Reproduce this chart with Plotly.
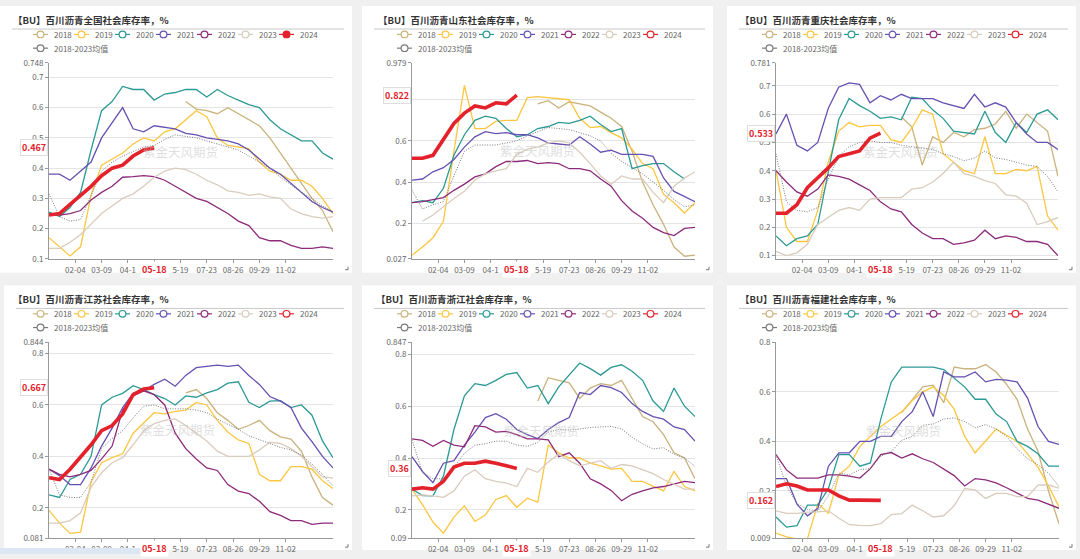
import plotly.graph_objects as go

W, H = 1080, 559
_ = None

# ---------------- data ----------------
WEEKS = list(range(0, 55, 2))          # week index of each reading (28 points)
WEEKS_2024 = list(range(0, 21, 2))     # 2024 readings up to latest week
TICK_POS = [5, 10, 15, 20, 25, 30, 35, 40, 45]
# labels as visible in the reference (the 04-1x / x5-19 labels are partly hidden by the latest-date tag)
TICK_LABELS = ["02-04", "03-09", "04-1", "", "5-19", "07-23", "08-26", "09-29", "11-02"]
LATEST_POS = 20
LATEST_LABEL = "05-18"

YEARS = ["2018", "2019", "2020", "2021", "2022", "2023"]
AVG_NAME = "2018-2023均值"
CUR_NAME = "2024"

TITLES = [
    "【BU】百川沥青全国社会库存率，%",
    "【BU】百川沥青山东社会库存率，%",
    "【BU】百川沥青重庆社会库存率，%",
    "【BU】百川沥青江苏社会库存率，%",
    "【BU】百川沥青浙江社会库存率，%",
    "【BU】百川沥青福建社会库存率，%",
]

NATIONAL = {
    "2018": [_] * 13 + [0.62, 0.595, 0.59, 0.58, 0.60, 0.58, 0.56, 0.54, 0.50, 0.45, 0.40, 0.35, 0.30, 0.26, 0.19],
    "2019": [0.17, 0.14, 0.11, 0.14, 0.31, 0.41, 0.43, 0.45, 0.48, 0.50, 0.49, 0.52, 0.53, 0.56, 0.59, 0.57, 0.50, 0.475, 0.47, 0.465, 0.42, 0.39, 0.38, 0.36, 0.36, 0.34, 0.30, 0.25],
    "2020": [0.255, 0.24, 0.27, 0.32, 0.46, 0.59, 0.62, 0.67, 0.66, 0.66, 0.625, 0.645, 0.65, 0.66, 0.66, 0.635, 0.66, 0.64, 0.625, 0.61, 0.60, 0.56, 0.53, 0.51, 0.49, 0.49, 0.45, 0.43],
    "2021": [0.38, 0.38, 0.36, 0.39, 0.42, 0.50, 0.55, 0.60, 0.53, 0.52, 0.54, 0.535, 0.53, 0.515, 0.51, 0.50, 0.495, 0.49, 0.48, 0.46, 0.43, 0.40, 0.38, 0.35, 0.32, 0.29, 0.27, 0.255],
    "2022": [0.25, 0.245, 0.25, 0.26, 0.295, 0.32, 0.34, 0.37, 0.372, 0.375, 0.372, 0.36, 0.34, 0.32, 0.30, 0.29, 0.27, 0.25, 0.225, 0.21, 0.17, 0.16, 0.16, 0.145, 0.135, 0.135, 0.14, 0.135],
    "2023": [0.135, 0.135, 0.155, 0.18, 0.215, 0.25, 0.275, 0.30, 0.315, 0.34, 0.37, 0.39, 0.40, 0.395, 0.38, 0.36, 0.345, 0.325, 0.32, 0.31, 0.315, 0.305, 0.30, 0.265, 0.25, 0.24, 0.235, 0.24],
    "avg":  [0.315, 0.24, 0.225, 0.23, 0.31, 0.39, 0.42, 0.44, 0.455, 0.47, 0.475, 0.495, 0.51, 0.505, 0.50, 0.49, 0.48, 0.47, 0.46, 0.44, 0.42, 0.40, 0.37, 0.345, 0.32, 0.30, 0.275, 0.255],
    "2024": [0.245, 0.25, 0.28, 0.31, 0.34, 0.375, 0.40, 0.41, 0.44, 0.46, 0.467],
}

SHANDONG = {
    "2018": [_] * 12 + [0.78, 0.795, 0.76, 0.79, 0.78, 0.77, 0.74, 0.71, 0.67, 0.55, 0.40, 0.29, 0.195, 0.085, 0.04, 0.045],
    "2019": [0.045, 0.085, 0.13, 0.21, 0.55, 0.87, 0.66, 0.66, 0.695, 0.70, 0.70, 0.81, 0.815, 0.81, 0.805, 0.80, 0.71, 0.665, 0.67, 0.64, 0.615, 0.56, 0.49, 0.465, 0.34, 0.30, 0.25, 0.30],
    "2020": [0.30, 0.31, 0.30, 0.37, 0.53, 0.63, 0.70, 0.72, 0.71, 0.66, 0.62, 0.63, 0.66, 0.67, 0.69, 0.685, 0.70, 0.72, 0.68, 0.645, 0.66, 0.465, 0.48, 0.49, 0.49, 0.45, 0.415, _],
    "2021": [0.41, 0.415, 0.45, 0.47, 0.51, 0.57, 0.62, 0.645, 0.635, 0.64, 0.63, 0.63, 0.615, 0.59, 0.585, 0.58, 0.62, 0.585, 0.545, 0.555, 0.535, 0.535, 0.535, 0.525, 0.42, 0.355, 0.33, 0.305],
    "2022": [0.30, 0.305, 0.315, 0.325, 0.36, 0.39, 0.425, 0.44, 0.475, 0.50, 0.50, 0.505, 0.49, 0.495, 0.49, 0.465, 0.465, 0.455, 0.415, 0.38, 0.31, 0.26, 0.225, 0.18, 0.155, 0.14, 0.175, 0.18],
    "2023": [_, 0.21, 0.24, 0.28, 0.32, 0.355, 0.41, 0.44, 0.455, 0.465, 0.535, 0.56, 0.57, 0.59, 0.60, 0.59, 0.545, 0.49, 0.43, 0.39, 0.43, 0.415, 0.415, 0.35, 0.30, 0.38, 0.42, 0.45],
    "avg":  [0.36, 0.27, 0.29, 0.305, 0.43, 0.55, 0.58, 0.58, 0.58, 0.59, 0.60, 0.625, 0.645, 0.665, 0.66, 0.655, 0.64, 0.625, 0.60, 0.54, 0.50, 0.47, 0.44, 0.40, 0.36, 0.315, 0.28, 0.29],
    "2024": [0.516, 0.516, 0.53, 0.61, 0.685, 0.735, 0.77, 0.76, 0.785, 0.78, 0.822],
}

CHONGQING = {
    "2018": [_] * 12 + [0.59, 0.555, 0.42, 0.52, 0.50, 0.535, 0.52, 0.545, 0.55, 0.565, 0.61, 0.55, 0.60, 0.57, 0.54, 0.38],
    "2019": [0.40, 0.20, 0.15, 0.15, 0.26, 0.43, 0.54, 0.57, 0.555, 0.56, 0.56, 0.51, 0.50, 0.55, 0.615, 0.60, 0.46, 0.43, 0.40, 0.39, 0.52, 0.39, 0.39, 0.405, 0.40, 0.415, 0.24, 0.19],
    "2020": [0.17, 0.135, 0.16, 0.17, 0.21, 0.40, 0.58, 0.655, 0.63, 0.61, 0.585, 0.59, 0.58, 0.66, 0.655, 0.615, 0.585, 0.54, 0.535, 0.53, 0.61, 0.535, 0.50, 0.57, 0.535, 0.60, 0.615, 0.58],
    "2021": [0.53, 0.60, 0.49, 0.47, 0.50, 0.62, 0.695, 0.71, 0.705, 0.64, 0.665, 0.65, 0.67, 0.655, 0.655, 0.655, 0.64, 0.63, 0.62, 0.67, 0.625, 0.64, 0.625, 0.57, 0.53, 0.50, 0.50, 0.475],
    "2022": [0.40, 0.36, 0.325, 0.31, 0.335, 0.385, 0.38, 0.37, 0.35, 0.33, 0.29, 0.265, 0.255, 0.21, 0.18, 0.16, 0.16, 0.14, 0.145, 0.155, 0.19, 0.16, 0.17, 0.165, 0.15, 0.15, 0.14, 0.10],
    "2023": [0.115, 0.10, 0.11, 0.14, 0.21, 0.235, 0.26, 0.27, 0.26, 0.30, 0.305, 0.305, 0.305, 0.335, 0.34, 0.36, 0.39, 0.43, 0.39, 0.38, 0.365, 0.355, 0.315, 0.31, 0.285, 0.21, 0.22, 0.235],
    "avg":  [0.46, 0.29, 0.26, 0.255, 0.27, 0.37, 0.45, 0.485, 0.50, 0.505, 0.50, 0.50, 0.49, 0.485, 0.48, 0.475, 0.46, 0.45, 0.435, 0.445, 0.47, 0.445, 0.44, 0.43, 0.42, 0.415, 0.38, 0.325],
    "2024": [0.25, 0.25, 0.28, 0.34, 0.375, 0.41, 0.45, 0.46, 0.47, 0.515, 0.533],
}

JIANGSU = {
    "2018": [_] * 13 + [0.647, 0.66, 0.625, 0.57, 0.54, 0.505, 0.52, 0.54, 0.50, 0.476, 0.467, 0.42, 0.32, 0.24, 0.21],
    "2019": [0.19, 0.14, 0.10, 0.105, 0.30, 0.375, 0.395, 0.41, 0.49, 0.53, 0.57, 0.565, 0.575, 0.58, 0.61, 0.60, 0.54, 0.495, 0.464, 0.45, 0.33, 0.305, 0.305, 0.36, 0.36, 0.35, 0.305, 0.275],
    "2020": [0.25, 0.24, 0.31, 0.33, 0.40, 0.60, 0.63, 0.645, 0.675, 0.66, 0.64, 0.625, 0.60, 0.635, 0.63, 0.647, 0.66, 0.685, 0.69, 0.61, 0.59, 0.615, 0.617, 0.59, 0.60, 0.56, 0.46, 0.395],
    "2021": [0.35, 0.325, 0.29, 0.29, 0.355, 0.44, 0.51, 0.59, 0.645, 0.655, 0.68, 0.70, 0.673, 0.715, 0.745, 0.75, 0.755, 0.75, 0.755, 0.715, 0.68, 0.633, 0.615, 0.59, 0.51, 0.457, 0.40, 0.355],
    "2022": [0.35, 0.33, 0.32, 0.33, 0.345, 0.39, 0.44, 0.58, 0.635, 0.655, 0.64, 0.60, 0.49, 0.43, 0.39, 0.355, 0.345, 0.29, 0.265, 0.255, 0.225, 0.185, 0.17, 0.15, 0.15, 0.135, 0.14, 0.14],
    "2023": [0.14, 0.14, 0.15, 0.18, 0.28, 0.336, 0.375, 0.395, 0.445, 0.50, 0.527, 0.54, 0.546, 0.52, 0.49, 0.46, 0.42, 0.40, 0.40, 0.40, 0.425, 0.455, 0.45, 0.43, 0.40, 0.36, 0.32, 0.315],
    "avg":  [0.35, 0.25, 0.24, 0.24, 0.30, 0.43, 0.47, 0.50, 0.55, 0.595, 0.60, 0.585, 0.585, 0.585, 0.58, 0.57, 0.545, 0.525, 0.505, 0.48, 0.465, 0.45, 0.435, 0.425, 0.405, 0.37, 0.33, 0.285],
    "2024": [0.317, 0.31, 0.35, 0.395, 0.445, 0.50, 0.52, 0.565, 0.64, 0.662, 0.667],
}

ZHEJIANG = {
    "2018": [_] * 12 + [0.62, 0.71, 0.70, 0.69, 0.63, 0.67, 0.687, 0.68, 0.70, 0.63, 0.56, 0.54, 0.49, 0.42, 0.40, 0.32],
    "2019": [0.28, 0.22, 0.153, 0.11, 0.172, 0.216, 0.155, 0.18, 0.24, 0.255, 0.21, 0.245, 0.23, 0.45, 0.42, 0.40, 0.40, 0.38, 0.37, 0.357, 0.36, 0.31, 0.31, 0.29, 0.273, 0.348, 0.29, 0.273],
    "2020": [0.28, 0.255, 0.254, 0.33, 0.51, 0.64, 0.687, 0.68, 0.70, 0.723, 0.73, 0.67, 0.68, 0.61, 0.675, 0.72, 0.767, 0.745, 0.72, 0.75, 0.76, 0.735, 0.70, 0.62, 0.58, 0.67, 0.60, 0.56],
    "2021": [0.405, 0.348, 0.305, 0.38, 0.39, 0.45, 0.50, 0.556, 0.571, 0.55, 0.51, 0.49, 0.475, 0.51, 0.537, 0.556, 0.653, 0.645, 0.68, 0.672, 0.653, 0.61, 0.58, 0.56, 0.55, 0.52, 0.51, 0.465],
    "2022": [0.474, 0.468, 0.445, 0.468, 0.45, 0.443, 0.525, 0.52, 0.50, 0.503, 0.49, 0.474, 0.474, 0.47, 0.405, 0.42, 0.38, 0.32, 0.30, 0.275, 0.235, 0.26, 0.273, 0.285, 0.29, 0.30, 0.31, 0.305],
    "2023": [0.254, 0.258, 0.254, 0.248, 0.273, 0.33, 0.355, 0.32, 0.31, 0.303, 0.29, 0.36, 0.345, 0.385, 0.415, 0.39, 0.37, 0.38, 0.39, 0.36, 0.375, 0.37, 0.355, 0.34, 0.317, 0.30, 0.28, 0.28],
    "avg":  [0.47, 0.345, 0.32, 0.32, 0.365, 0.418, 0.45, 0.455, 0.465, 0.465, 0.45, 0.445, 0.46, 0.50, 0.51, 0.508, 0.512, 0.518, 0.52, 0.522, 0.512, 0.48, 0.455, 0.435, 0.44, 0.415, 0.40, 0.367],
    "2024": [0.28, 0.285, 0.28, 0.31, 0.365, 0.38, 0.38, 0.388, 0.38, 0.37, 0.36],
}

FUJIAN = {
    "2018": [_] * 12 + [0.516, 0.57, 0.62, 0.627, 0.556, 0.70, 0.693, 0.693, 0.71, 0.68, 0.63, 0.57, 0.45, 0.36, 0.20, 0.068],
    "2019": [0.03, 0.015, 0.007, 0.007, 0.15, 0.11, 0.265, 0.30, 0.38, 0.42, 0.46, 0.49, 0.52, 0.565, 0.60, 0.62, 0.585, 0.53, 0.42, 0.354, 0.40, 0.45, 0.425, 0.40, 0.35, 0.295, 0.22, 0.137],
    "2020": [0.095, 0.054, 0.06, 0.143, 0.143, 0.21, 0.347, 0.347, 0.30, 0.313, 0.49, 0.64, 0.70, 0.70, 0.70, 0.70, 0.69, 0.654, 0.62, 0.57, 0.57, 0.51, 0.48, 0.40, 0.38, 0.35, 0.30, 0.30],
    "2021": [0.25, 0.25, 0.147, 0.10, 0.13, 0.30, 0.354, 0.354, 0.40, 0.40, 0.42, 0.42, 0.48, 0.52, 0.60, 0.50, 0.68, 0.66, 0.66, 0.68, 0.64, 0.65, 0.647, 0.64, 0.575, 0.46, 0.40, 0.388],
    "2022": [0.347, 0.285, 0.252, 0.252, 0.252, 0.265, 0.265, 0.26, 0.252, 0.29, 0.347, 0.355, 0.333, 0.35, 0.33, 0.315, 0.29, 0.262, 0.22, 0.25, 0.245, 0.233, 0.213, 0.19, 0.17, 0.163, 0.145, 0.13],
    "2023": [0.12, 0.11, 0.11, 0.115, 0.116, 0.12, 0.09, 0.064, 0.061, 0.06, 0.068, 0.105, 0.109, 0.143, 0.12, 0.095, 0.10, 0.14, 0.21, 0.204, 0.17, 0.19, 0.19, 0.177, 0.177, 0.224, 0.224, 0.211],
    "avg":  [0.347, 0.22, 0.15, 0.125, 0.12, 0.18, 0.272, 0.265, 0.286, 0.29, 0.34, 0.36, 0.405, 0.42, 0.465, 0.47, 0.49, 0.495, 0.48, 0.455, 0.468, 0.45, 0.42, 0.37, 0.33, 0.306, 0.272, 0.218],
    "2024": [0.218, 0.229, 0.22, 0.204, 0.204, 0.204, 0.18, 0.163, 0.163, 0.162, 0.162],
}

PANEL_DATA = [NATIONAL, SHANDONG, CHONGQING, JIANGSU, ZHEJIANG, FUJIAN]
LATEST_VALUES = [0.467, 0.822, 0.533, 0.667, 0.36, 0.162]

Y_RANGES = [(0.1, 0.748), (0.027, 0.979), (0.0885, 0.781), (0.081, 0.844), (0.09, 0.847), (0.009, 0.8)]
Y_TICKS = [
    [0.1, 0.2, 0.3, 0.4, 0.5, 0.6, 0.7, 0.748],
    [0.027, 0.2, 0.4, 0.6, 0.8, 0.979],
    [0.1, 0.2, 0.3, 0.4, 0.5, 0.6, 0.7, 0.781],
    [0.081, 0.2, 0.4, 0.6, 0.8, 0.844],
    [0.09, 0.2, 0.4, 0.6, 0.8, 0.847],
    [0.009, 0.2, 0.4, 0.6, 0.8],
]
# tick labels that sit fully under the latest-value tag in the reference
Y_HIDDEN = [[], [0.8], [], [], [], []]

# ---------------- style / layout ----------------
COLORS = {
    "2018": "#c9b27c", "2019": "#fcc640", "2020": "#2b9995", "2021": "#6650b2",
    "2022": "#8d2a7b", "2023": "#d9ccbc", "2024": "#e3222b", "avg": "#7a7a7a",
}
RED = "#e3222b"
FONT = "Noto Sans CJK SC, Noto Sans, sans-serif"

PANEL_BOX = [(0, 0, 352, 272), (362, 0, 713, 272), (727, 0, 1076, 272),
             (4, 285, 352, 555), (362, 285, 713, 555), (727, 285, 1076, 555)]
PLOT_BOX = [(49, 333, 58, 258), (412, 695, 58, 258), (776, 1058, 58, 258),
            (49, 333, 343, 543), (412, 695, 343, 543), (776, 1059, 343, 543)]
TITLE_POS = [(11, 14), (376, 14), (738, 14), (11, 299), (374, 299), (738, 299)]
LEGEND_X = [33, 397, 762, 33, 397, 762]
LEGEND_ROWS = [(29, 43)] * 3 + [(314, 328)] * 3
WATERMARK_POS = [(180, 148), (537, 147), (900, 148), (177, 432), (541, 433), (903, 433)]
LEGEND_FILLED_2024 = [True, False, False, False, False, False]


def px(x):
    return x / W


def py(y):
    return 1 - y / H


fig = go.Figure()
shapes = []
annotations = []

for p, box in enumerate(PANEL_BOX):
    x0, y0, x1, y1 = box
    shapes.append(dict(type="rect", xref="paper", yref="paper", layer="below",
                       x0=px(x0), x1=px(x1), y0=py(y1), y1=py(y0),
                       fillcolor="white", line=dict(width=0)))
    sy = y0 + 23.5
    shapes.append(dict(type="line", xref="paper", yref="paper",
                       x0=px(x0 + 12), x1=px(x1 - 8), y0=py(sy), y1=py(sy),
                       line=dict(color="#c8c8c8", width=1)))
    shapes.append(dict(type="line", xref="paper", yref="paper",
                       x0=px(x1 - 7), x1=px(x1 - 4), y0=py(y1 - 3), y1=py(y1 - 3),
                       line=dict(color="#777", width=1)))
    shapes.append(dict(type="line", xref="paper", yref="paper",
                       x0=px(x1 - 4), x1=px(x1 - 4), y0=py(y1 - 3), y1=py(y1 - 6),
                       line=dict(color="#777", width=1)))

shapes.append(dict(type="rect", xref="paper", yref="paper", layer="above",
                   x0=0, x1=px(143), y0=0, y1=py(553),
                   fillcolor="#dde7f4", line=dict(width=0)))

for p, data in enumerate(PANEL_DATA):
    n = "" if p == 0 else str(p + 1)
    xa, ya = "x" + n, "y" + n
    for yr in YEARS:
        fig.add_trace(go.Scatter(x=WEEKS, y=data[yr], mode="lines", name=yr,
                                 line=dict(color=COLORS[yr], width=1.3),
                                 xaxis=xa, yaxis=ya, showlegend=False, hoverinfo="skip"))
    fig.add_trace(go.Scatter(x=WEEKS, y=data["avg"], mode="lines", name=AVG_NAME,
                             line=dict(color=COLORS["avg"], width=1, dash="1px,1.5px"),
                             xaxis=xa, yaxis=ya, showlegend=False, hoverinfo="skip"))
    fig.add_trace(go.Scatter(x=WEEKS_2024, y=data["2024"], mode="lines", name=CUR_NAME,
                             line=dict(color=RED, width=3.6),
                             xaxis=xa, yaxis=ya, showlegend=False, hoverinfo="skip"))

    bx0, bx1, by0, by1 = PLOT_BOX[p]
    fig.layout["xaxis" + n] = dict(
        domain=[px(bx0), px(bx1)], anchor=ya, range=[0, 54],
        tickmode="array", tickvals=TICK_POS, ticktext=TICK_LABELS,
        ticks="outside", ticklen=3, tickcolor="#999", showline=True,
        linecolor="#999", linewidth=1, showgrid=False, zeroline=False,
        tickfont=dict(size=8, color="#666", family=FONT), fixedrange=True)
    fig.layout["yaxis" + n] = dict(
        domain=[py(by1), py(by0)], anchor=xa, range=list(Y_RANGES[p]),
        tickmode="array", tickvals=Y_TICKS[p],
        ticktext=["" if v in Y_HIDDEN[p] else f"{v:g}" for v in Y_TICKS[p]],
        ticks="outside", ticklen=3, tickcolor="#999", showline=True,
        linecolor="#999", linewidth=1, showgrid=True, gridcolor="#e4e4e4",
        zeroline=False, tickfont=dict(size=8, color="#666", family=FONT), fixedrange=True)

    tx, ty = TITLE_POS[p]
    annotations.append(dict(xref="paper", yref="paper", x=px(tx), y=py(ty),
                            xanchor="left", yanchor="middle", showarrow=False,
                            text="<b>" + TITLES[p] + "</b>",
                            font=dict(size=9.5, color="#333", family=FONT)))

    lx = LEGEND_X[p]
    r1, r2 = LEGEND_ROWS[p]
    items = YEARS + [CUR_NAME, AVG_NAME]
    keys = YEARS + ["2024", "avg"]
    for j, (name, key) in enumerate(zip(items, keys)):
        if j < 7:
            sx, sy = lx + 41 * j, r1
        else:
            sx, sy = lx, r2
        c = COLORS[key]
        shapes.append(dict(type="line", xref="paper", yref="paper",
                           x0=px(sx), x1=px(sx + 15), y0=py(sy), y1=py(sy),
                           line=dict(color=c, width=1.2)))
        filled = key == "2024" and LEGEND_FILLED_2024[p]
        cx, r = sx + 7.5, 3.4
        shapes.append(dict(type="circle", xref="paper", yref="paper",
                           x0=px(cx - r), x1=px(cx + r), y0=py(sy + r), y1=py(sy - r),
                           fillcolor=c if filled else "white", line=dict(color=c, width=1.2)))
        annotations.append(dict(xref="paper", yref="paper", x=px(sx + 19), y=py(sy),
                                xanchor="left", yanchor="middle", showarrow=False,
                                text=name, font=dict(size=8, color="#666", family=FONT)))

    wx, wy = WATERMARK_POS[p]
    annotations.append(dict(xref="paper", yref="paper", x=px(wx), y=py(wy),
                            xanchor="center", yanchor="middle", showarrow=False,
                            text="紫金天风期货",
                            font=dict(size=12.5, color="rgba(190,190,190,0.5)", family=FONT)))

    annotations.append(dict(xref=xa + " domain", x=0, xanchor="right", xshift=-1,
                            yref=ya, y=LATEST_VALUES[p], yanchor="middle", showarrow=False,
                            text=f"<b>{LATEST_VALUES[p]:g}</b>",
                            font=dict(size=9, color=RED, family=FONT),
                            bgcolor="white", bordercolor="#dedede", borderwidth=1, borderpad=1))
    annotations.append(dict(xref=xa, x=LATEST_POS, xanchor="center",
                            yref=ya + " domain", y=0, yanchor="top", yshift=-2,
                            showarrow=False, text=f"<b>{LATEST_LABEL}</b>", borderpad=1,
                            font=dict(size=9, color=RED, family=FONT), bgcolor="white"))

fig.update_layout(
    width=W, height=H, margin=dict(l=0, r=0, t=0, b=0),
    paper_bgcolor="#f0f0f0", plot_bgcolor="rgba(0,0,0,0)",
    font=dict(family=FONT, size=8, color="#666"),
    shapes=shapes, annotations=annotations, showlegend=False,
)

fig.write_html("out.html", config={"displayModeBar": False},
               post_script="document.body.style.margin='0';document.body.style.overflow='hidden';")
